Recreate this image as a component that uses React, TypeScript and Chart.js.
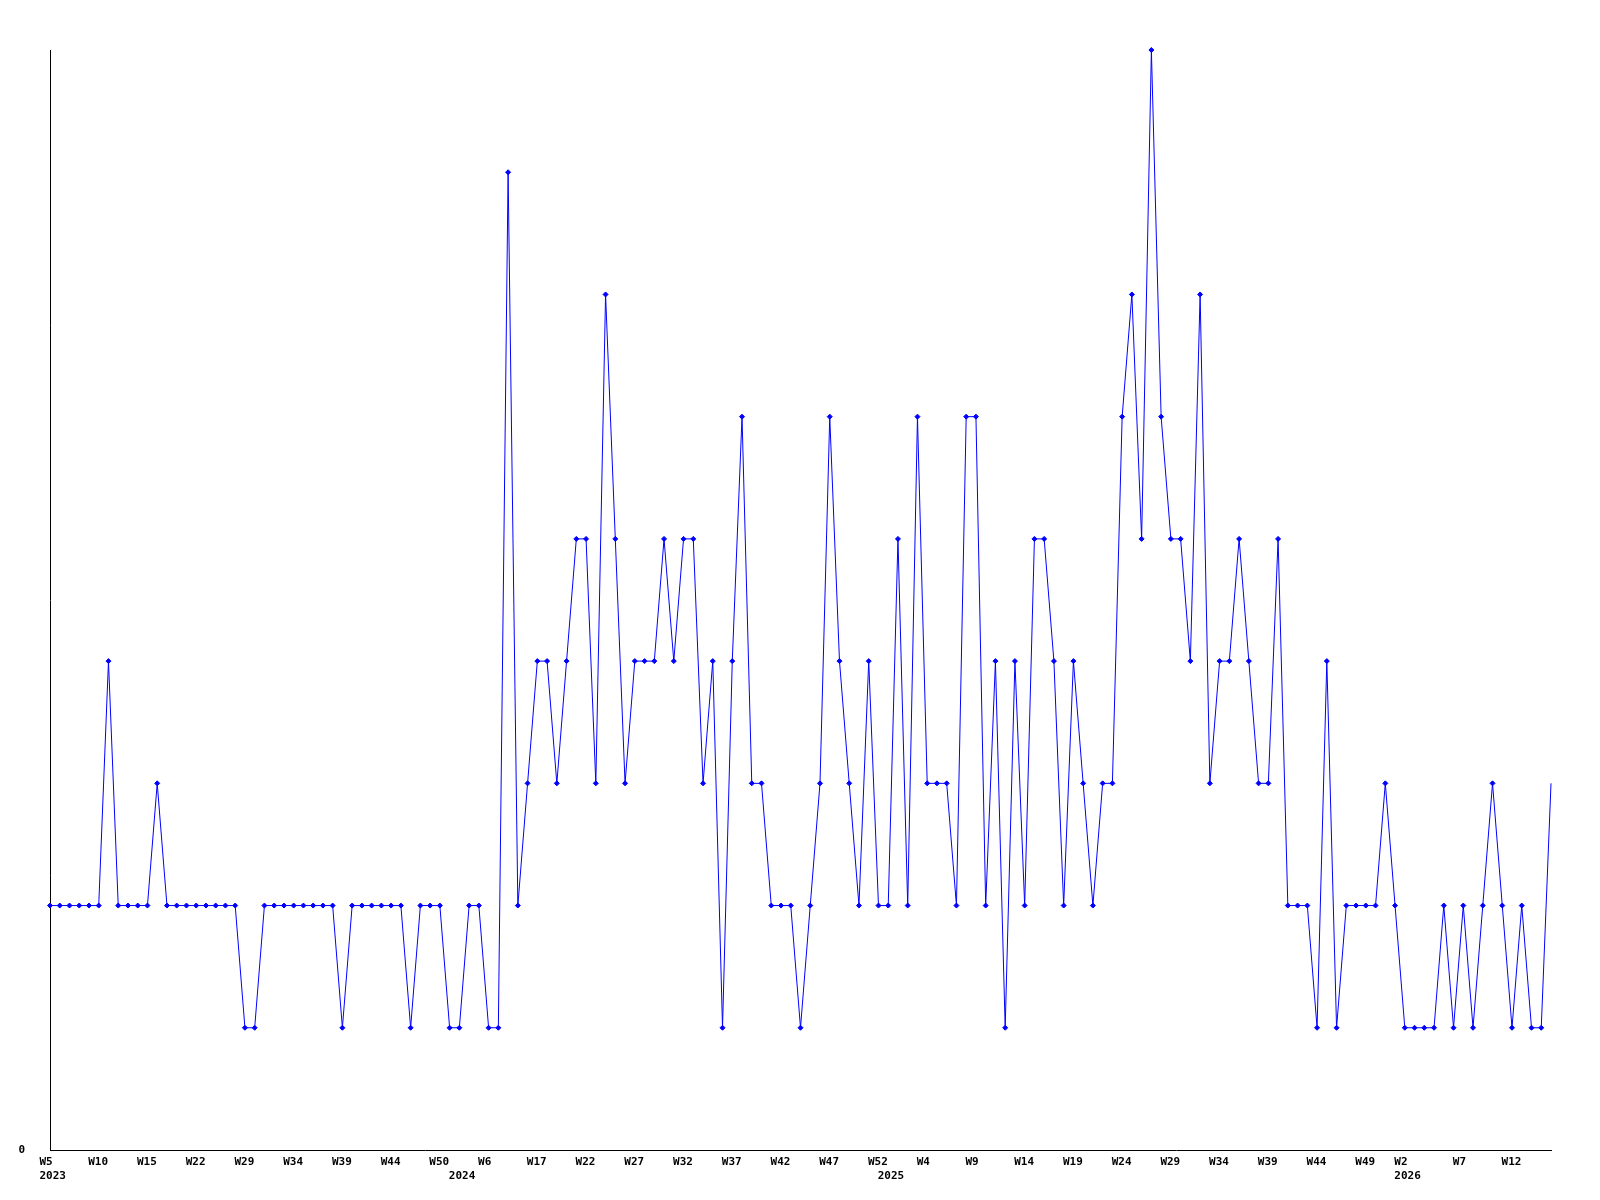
import React, { useEffect, useRef } from "react";
import { Chart, registerables } from "chart.js";

Chart.register(...registerables);

// Weekly values, one per category (155 points)
const values: number[] = [
  2, 2, 2, 2, 2, 2, 4, 2, 2, 2,
  2, 3, 2, 2, 2, 2, 2, 2, 2, 2,
  1, 1, 2, 2, 2, 2, 2, 2, 2, 2,
  1, 2, 2, 2, 2, 2, 2, 1, 2, 2,
  2, 1, 1, 2, 2, 1, 1, 8, 2, 3,
  4, 4, 3, 4, 5, 5, 3, 7, 5, 3,
  4, 4, 4, 5, 4, 5, 5, 3, 4, 1,
  4, 6, 3, 3, 2, 2, 2, 1, 2, 3,
  6, 4, 3, 2, 4, 2, 2, 5, 2, 6,
  3, 3, 3, 2, 6, 6, 2, 4, 1, 4,
  2, 5, 5, 4, 2, 4, 3, 2, 3, 3,
  6, 7, 5, 9, 6, 5, 5, 4, 7, 3,
  4, 4, 5, 4, 3, 3, 5, 2, 2, 2,
  1, 4, 1, 2, 2, 2, 2, 3, 2, 1,
  1, 1, 1, 2, 1, 2, 1, 2, 3, 2,
  1, 2, 1, 1, 3,
];

// Week tick labels and the category index they sit on
const weekTickIndex: number[] = [
  0, 5, 10, 15, 20, 25, 30, 35, 40, 45, 50, 55, 60, 65, 70, 75, 80, 85, 90,
  95, 100, 105, 110, 115, 120, 125, 130, 135, 139, 145, 150,
];
const weekTickLabels: string[] = [
  "W5", "W10", "W15", "W22", "W29", "W34", "W39", "W44", "W50", "W6", "W17",
  "W22", "W27", "W32", "W37", "W42", "W47", "W52", "W4", "W9", "W14", "W19",
  "W24", "W29", "W34", "W39", "W44", "W49", "W2", "W7", "W12",
];

// Year labels (second line) and their category index
const yearTickIndex: number[] = [0, 42, 86, 139];
const yearTickLabels: string[] = ["2023", "2024", "2025", "2026"];

const categories: string[] = values.map((_, i) => {
  const w = weekTickIndex.indexOf(i);
  return w >= 0 ? weekTickLabels[w] : "";
});

const FONT = "'DejaVu Sans Mono', 'Liberation Mono', monospace";

export default function App() {
  const canvasRef = useRef<HTMLCanvasElement | null>(null);

  useEffect(() => {
    document.body.style.margin = "0";
    const canvas = canvasRef.current;
    if (!canvas) return;
    const last = values.length - 1;
    const chart = new Chart(canvas, {
      type: "line",
      data: {
        labels: categories,
        datasets: [
          {
            data: values,
            borderColor: "#0000ff",
            backgroundColor: "#0000ff",
            borderWidth: 1,
            tension: 0,
            fill: false,
            pointStyle: "rectRot",
            pointRadius: (ctx: any) => (ctx.dataIndex === last ? 0 : 2.5),
            pointBorderWidth: 1,
            pointBorderColor: "#0000ff",
            pointBackgroundColor: "#0000ff",
            clip: false as any,
          },
        ],
      },
      options: {
        responsive: false,
        animation: false,
        devicePixelRatio: 1,
        layout: { padding: { top: 50, right: 49, bottom: 0, left: 0 } },
        plugins: {
          legend: { display: false },
          tooltip: { enabled: false },
          title: { display: false },
        },
        scales: {
          x: {
            type: "category",
            offset: false,
            grid: { display: false, drawTicks: false },
            border: { display: true, color: "#000000", width: 1 },
            afterFit: (s: any) => {
              s.height = 50;
            },
            ticks: {
              autoSkip: false,
              maxRotation: 0,
              minRotation: 0,
              align: "start",
              labelOffset: -10.5,
              padding: 6,
              color: "#000000",
              font: { family: FONT, size: 11, weight: "bold", lineHeight: 1.2 },
              callback: (_v: any, i: number) => {
                const w = weekTickIndex.indexOf(i);
                const y = yearTickIndex.indexOf(i);
                const wl = w >= 0 ? weekTickLabels[w] : "";
                if (y >= 0) return [wl, yearTickLabels[y]];
                return wl;
              },
            },
          },
          y: {
            min: 0,
            max: 9,
            grid: { display: false, drawTicks: false },
            border: { display: true, color: "#000000", width: 1 },
            afterBuildTicks: (s: any) => {
              s.ticks = [{ value: 0 }];
            },
            afterFit: (s: any) => {
              s.width = 50;
            },
            ticks: {
              padding: 25,
              color: "#000000",
              font: { family: FONT, size: 11, weight: "bold" },
              callback: (v: any) => (v === 0 ? "0" : ""),
            },
          },
        },
      },
    });
    return () => chart.destroy();
  }, []);

  return (
    <div style={{ position: "absolute", left: 0, top: 0, width: 1600, height: 1200, background: "#fff" }}>
      <canvas ref={canvasRef} width={1600} height={1200} style={{ display: "block" }} />
    </div>
  );
}
